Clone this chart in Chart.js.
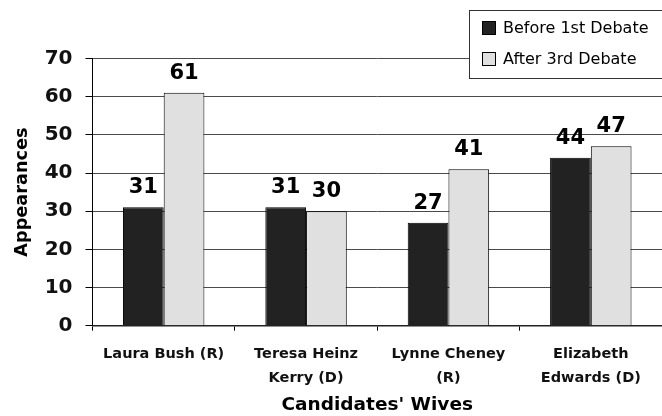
<!DOCTYPE html>
<html>
<head>
<meta charset="utf-8">
<script src="https://cdn.jsdelivr.net/npm/chart.js@4/dist/chart.umd.min.js"></script>
<style>
  html, body { margin: 0; padding: 0; background: #fff; overflow: hidden; }
  #wrap { width: 662px; height: 416px; position: relative; }
</style>
</head>
<body>
<div id="wrap"><canvas id="c"></canvas></div>
<script>
// Media appearances of the candidates' wives
const categories = [
  ["Laura Bush (R)"],
  ["Teresa Heinz", "Kerry (D)"],
  ["Lynne Cheney", "(R)"],
  ["Elizabeth", "Edwards (D)"]
];
const seriesNames = ["Before 1st Debate", "After 3rd Debate"];
const beforeFirst = [31, 31, 27, 44];
const afterThird = [61, 30, 41, 47];
const yTicks = [0, 10, 20, 30, 40, 50, 60, 70];

const FAMILY = '"DejaVu Sans", "Liberation Sans", Arial, sans-serif';
const seriesFill = ["#222222", "#e0e0e0"];

// Numbers printed above each bar
const valueLabels = {
  id: "valueLabels",
  afterDatasetsDraw(chart) {
    const ctx = chart.ctx;
    ctx.save();
    ctx.font = "bold 21px " + FAMILY;
    ctx.fillStyle = "#000";
    ctx.textAlign = "center";
    ctx.textBaseline = "alphabetic";
    chart.data.datasets.forEach((ds, i) => {
      chart.getDatasetMeta(i).data.forEach((bar, j) => {
        ctx.fillText(String(ds.data[j]), bar.x, bar.y - 14);
      });
    });
    ctx.restore();
  }
};

// Boxed legend in the top-right corner
const boxedLegend = {
  id: "boxedLegend",
  afterDraw(chart) {
    const ctx = chart.ctx;
    const x0 = 469.5, y0 = 10.5, w = 200, h = 68;
    ctx.save();
    ctx.fillStyle = "#fff";
    ctx.fillRect(x0, y0, w, h);
    ctx.strokeStyle = "#333";
    ctx.lineWidth = 1;
    ctx.strokeRect(x0, y0, w, h);
    ctx.font = "16px " + FAMILY;
    ctx.textBaseline = "middle";
    ctx.textAlign = "left";
    const rows = [28, 59];
    chart.data.datasets.forEach((ds, i) => {
      const cy = rows[i];
      ctx.fillStyle = ds.backgroundColor;
      ctx.fillRect(482.5, cy - 6.5, 13, 13);
      ctx.strokeStyle = "#000";
      ctx.strokeRect(482.5, cy - 6.5, 13, 13);
      ctx.fillStyle = "#000";
      ctx.fillText(ds.label, 503, cy + 1);
    });
    ctx.restore();
  }
};

new Chart(document.getElementById("c"), {
  type: "bar",
  data: {
    labels: categories,
    datasets: [
      { label: seriesNames[0], data: beforeFirst, backgroundColor: seriesFill[0], borderColor: "#000", borderWidth: 1 },
      { label: seriesNames[1], data: afterThird, backgroundColor: seriesFill[1], borderColor: "#000", borderWidth: 1 }
    ]
  },
  options: {
    responsive: true,
    maintainAspectRatio: false,
    animation: false,
    categoryPercentage: 0.572,
    barPercentage: 1.0,
    layout: { padding: { top: 58.5, right: 0, bottom: 0, left: 0 } },
    plugins: { legend: { display: false }, tooltip: { enabled: false } },
    scales: {
      x: {
        grid: { display: true, drawOnChartArea: false, drawTicks: true, tickLength: 5, color: "#000", offset: true },
        border: { display: true, color: "#222", width: 1.5 },
        ticks: {
          font: { family: FAMILY, size: 14.5, weight: "bold", lineHeight: 1.65 },
          color: "#111", padding: 12, maxRotation: 0, autoSkip: false
        },
        title: {
          display: true, text: "Candidates' Wives", color: "#000",
          font: { family: FAMILY, size: 18.5, weight: "bold", lineHeight: 1.2 },
          padding: { top: 0, bottom: 0 }
        },
        afterFit(s) { s.height = 90.3; }
      },
      y: {
        min: 0, max: 70,
        afterBuildTicks(s) { s.ticks = yTicks.map(v => ({ value: v })); },
        grid: { color: "#4a4a4a", tickColor: "#000", tickLength: 7, lineWidth: 1 },
        border: { display: true, color: "#000", width: 1 },
        ticks: { font: { family: FAMILY, size: 20, weight: "bold" }, color: "#111", padding: 13 },
        title: {
          display: true, text: "Appearances", color: "#000",
          font: { family: FAMILY, size: 17.7, weight: "bold", lineHeight: 1.2 },
          padding: { top: 11.4, bottom: 0 }
        },
        afterFit(s) { s.width = 92.5; }
      }
    }
  },
  plugins: [valueLabels, boxedLegend]
});
</script>
</body>
</html>
